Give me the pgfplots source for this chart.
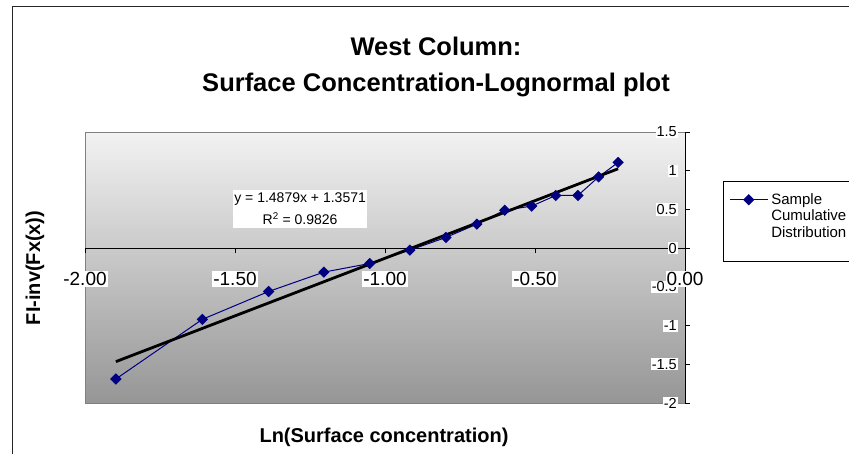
\documentclass[border=0pt]{standalone}
\usepackage{fontspec}
\setmainfont{Liberation Sans}
\usepackage{pgfplots}
\pgfplotsset{compat=1.18}
\definecolor{navyblue}{RGB}{0,0,128}
\definecolor{bgtop}{RGB}{242,242,242}
\definecolor{bgbot}{RGB}{150,150,150}
\begin{document}
\begin{tikzpicture}
\clip (0pt,0pt) rectangle (849pt,453pt);
\fill[white] (0pt,0pt) rectangle (849pt,453pt);
\draw[line width=0.8pt, black!85] (12pt,-5pt) -- (12pt,447pt) -- (860pt,447pt);
\node[align=center, font=\bfseries\fontsize{25.5}{36}\selectfont] at (436pt,386pt) {West Column:\\Surface Concentration-Lognormal plot};
\node[rotate=90, font=\bfseries\fontsize{20}{20}\selectfont] at (35pt,185pt) {FI-inv(Fx(x))};
\node[font=\bfseries\fontsize{20}{20}\selectfont] at (384pt,16pt) {Ln(Surface concentration)};
\begin{axis}[
  at={(85pt,50pt)}, anchor=south west,
  scale only axis, width=600pt, height=271pt,
  xmin=-2, xmax=0, ymin=-2, ymax=1.5,
  axis lines=middle,
  axis line style={-, black, line width=0.8pt},
  axis background/.style={top color=bgtop, bottom color=bgbot, draw=gray, line width=0.6pt},
  xtick={-2,-1.5,-1,-0.5},
  xticklabels={-2.00,-1.50,-1.00,-0.50},
  extra x ticks={0}, extra x tick labels={0.00},
  ytick={-2,-1.5,-1,-0.5,0.5,1,1.5},
  yticklabels={-2,-1.5,-1,-0.5,0.5,1,1.5},
  extra y ticks={0}, extra y tick labels={0},
  tick align=inside,
  major tick length=5pt,
  tick style={black, line width=0.8pt},
  x tick style={yshift=-5pt},
  extra x tick style={tick style={yshift=-5pt}},
  x tick label style={font=\fontsize{19}{19}\selectfont, fill=white, inner sep=1pt, yshift=-23pt},
  y tick label style={font=\fontsize{14.5}{14.5}\selectfont, fill=white, inner sep=1pt, xshift=-7pt},
  legend style={at={(1.0633,0.8192)}, anchor=north west, draw=black, line width=0.6pt, fill=white,
    font=\fontsize{15}{16.5}\selectfont, inner xsep=6pt, inner ysep=3pt, column sep=0pt,
    nodes={align=left, inner xsep=3pt}},
  legend cell align=left,
  legend image code/.code={
    \path[draw=none, fill=none] (0pt,-42pt) rectangle (38pt,32pt);
    \draw[mark repeat=2, mark phase=2, #1] plot coordinates {(0pt,16.5pt) (19pt,16.5pt) (38pt,16.5pt)};
  },
  clip=false,
]
\addplot[navyblue, line width=1pt, mark=square*, mark size=3.5pt,
  mark options={fill=navyblue, rotate=45, solid}] coordinates {
  (-1.897,-1.69) (-1.609,-0.92) (-1.388,-0.56) (-1.204,-0.31) (-1.051,-0.198)
  (-0.917,-0.026) (-0.797,0.138) (-0.694,0.31) (-0.601,0.49) (-0.511,0.543)
  (-0.431,0.68) (-0.357,0.68) (-0.288,0.92) (-0.223,1.107)
};
\addlegendentry{Sample\\Cumulative\\Distribution}
\addplot[black, line width=2.8pt, forget plot] coordinates {(-1.897,-1.4655) (-0.223,1.0253)};
\node[fill=white, align=center, font=\fontsize{14}{22}\selectfont, inner xsep=1.5pt, inner ysep=3pt]
  at (axis cs:-1.283,0.504) {y = 1.4879x + 1.3571\\R\textsuperscript{2} = 0.9826};
\end{axis}
\end{tikzpicture}
\end{document}
